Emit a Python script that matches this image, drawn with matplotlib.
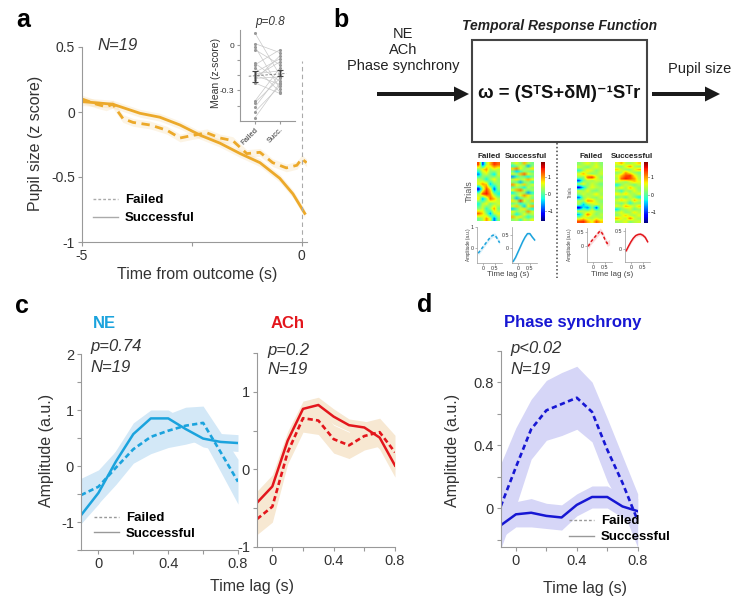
#Figur med pupil, NE, ACh og phase synchrony (TRF)
import numpy as np
import matplotlib
matplotlib.use("Agg")
import matplotlib.pyplot as plt
from matplotlib.lines import Line2D
from matplotlib.patches import Rectangle

plt.rcParams['font.family'] = ['Liberation Sans', 'DejaVu Sans']

#Data: panel a, pupil
t_succ = [-5, -4.3, -3.68, -3.23, -2.77, -2.3, -1.86, -1.4, -0.95, -0.5, -0.2, 0.07]
pupil_succ = [0.08, 0.06, -0.01, -0.04, -0.1, -0.18, -0.24, -0.32, -0.39, -0.51, -0.63, -0.78]
t_fail = [-5, -4.67, -4.45, -4.3, -4.07, -3.84, -3.45, -3.07, -2.77, -2.48, -2.16, -1.86,
          -1.57, -1.25, -0.95, -0.66, -0.35, -0.11, 0, 0.11]
pupil_fail = [0.1, 0.06, 0.04, 0.06, -0.05, -0.08, -0.1, -0.14, -0.2, -0.18, -0.16, -0.2,
              -0.22, -0.32, -0.31, -0.39, -0.43, -0.41, -0.36, -0.39]
#inset: mean z-score pr. dyr (parret)
inset_failed = [0.08, 0.01, -0.01, -0.03, -0.12, -0.13, -0.15, -0.18, -0.19, -0.2,
                -0.21, -0.22, -0.23, -0.25, -0.37, -0.38, -0.41, -0.44, -0.48]
inset_succ = [-0.2, -0.05, -0.29, -0.13, -0.24, -0.03, -0.31, -0.09, -0.17, -0.26,
              -0.11, -0.21, -0.07, -0.32, -0.15, -0.22, -0.19, -0.27, -0.25]

#Data: panel c og d (TRF)
lag = [-0.1, 0, 0.1, 0.2, 0.3, 0.4, 0.5, 0.6, 0.7, 0.8]
ne_succ = [-0.88, -0.48, 0.08, 0.57, 0.85, 0.85, 0.66, 0.49, 0.43, 0.41]
ne_succ_err = [0.15, 0.2, 0.2, 0.2, 0.15, 0.15, 0.15, 0.15, 0.15, 0.15]
ne_fail = [-0.52, -0.37, -0.03, 0.3, 0.52, 0.63, 0.72, 0.77, 0.25, -0.28]
ne_fail_err = [0.3, 0.3, 0.3, 0.25, 0.3, 0.3, 0.33, 0.3, 0.35, 0.4]
ach_succ = [-0.43, -0.22, 0.37, 0.78, 0.83, 0.68, 0.57, 0.54, 0.41, 0.05]
ach_succ_err = [0.15, 0.15, 0.12, 0.1, 0.1, 0.1, 0.08, 0.08, 0.15, 0.15]
ach_fail = [-0.64, -0.48, 0.22, 0.66, 0.63, 0.39, 0.31, 0.43, 0.48, 0.22]
ach_fail_err = [0.2, 0.2, 0.15, 0.18, 0.18, 0.18, 0.17, 0.18, 0.18, 0.22]
ps_succ = [-0.11, -0.04, -0.03, -0.05, -0.06, 0.02, 0.07, 0.07, 0.01, -0.02]
ps_succ_err = [0.08, 0.08, 0.09, 0.08, 0.08, 0.07, 0.07, 0.07, 0.07, 0.08]
ps_fail = [0.01, 0.26, 0.5, 0.62, 0.66, 0.7, 0.61, 0.37, 0.16, -0.08]
ps_fail_err = [0.27, 0.25, 0.19, 0.19, 0.2, 0.2, 0.19, 0.2, 0.17, 0.17]

#Data: panel b, eksempel-heatmaps (trials x lag) og sma TRF kurver
hm_ne_failed = [
    [1.3, -1.0, 0.4, 0.9, 1.4, 1.2], [0.2, 0.7, 1.0, 0.3, 0.6, 0.4],
    [-0.7, 0.3, 0.5, 0.1, -0.4, 0.5], [0.4, 0.2, -0.3, 0.3, 0.7, 0.2],
    [0.6, 1.0, 0.8, -0.5, 0.1, 0.3], [-1.2, 0.3, 1.3, 0.7, -0.9, 0.2],
    [0.3, 1.3, 1.5, 1.0, 0.2, -0.3], [0.7, -0.6, 0.2, 1.2, 0.9, 0.4],
    [-0.3, 0.4, 0.6, 0.1, 0.3, 0.5], [0.2, 0.5, -0.2, 0.3, 1.0, 0.1],
    [1.2, 0.8, 0.2, -0.6, 0.4, 0.6], [0.1, 0.4, 1.0, 0.5, -0.8, 0.2]]
hm_ne_succ = [
    [0.3, 0.6, 0.2, 0.9, 0.4, 0.1], [-0.2, 0.1, 0.5, 0.3, -0.5, 0.2],
    [0.8, 1.1, 0.6, 0.2, 0.4, 0.7], [0.1, -0.4, -0.1, 0.3, 0.2, 0.0],
    [0.5, 0.3, 0.9, 1.2, 0.6, 0.3], [-0.6, -0.2, 0.2, 0.0, -0.3, 0.1],
    [0.4, 0.7, 0.3, 0.5, 0.9, 0.6], [0.2, 0.0, -0.5, 0.1, 0.3, -0.2],
    [1.0, 0.6, 0.4, 0.8, 0.2, 0.5], [0.0, 0.3, 0.1, -0.3, 0.4, 0.2],
    [0.6, 0.9, 1.1, 0.4, 0.1, 0.3], [-0.3, 0.2, 0.4, 0.2, -0.6, -0.2],
    [0.4, 0.1, 0.6, 1.0, 0.7, 0.3], [0.2, -0.5, 0.0, 0.3, 0.5, 0.1],
    [0.7, 0.4, 1.3, 0.6, 0.2, 0.8], [0.1, 0.3, -0.2, 0.1, 0.4, 0.0],
    [0.5, 0.8, 0.3, -0.4, 0.6, 0.9], [-0.4, 0.0, 0.5, 0.7, 0.1, -0.3],
    [0.6, 0.2, 0.4, 0.3, 1.0, 0.5], [0.3, -0.3, 0.1, 0.6, 0.2, 0.4],
    [0.9, 0.5, 0.7, 0.2, -0.2, 0.1], [0.2, 0.4, -0.1, 0.5, 0.3, 0.6]]
hm_ach_failed = [
    [0.2, 0.4, 0.6, 0.3, 0.5, 0.2], [0.5, 0.3, 0.1, 0.4, 0.6, 0.3],
    [-0.2, 0.3, 0.7, 0.5, 0.2, 0.4], [0.6, 0.9, 0.4, 0.2, 0.3, 0.5],
    [0.3, 0.2, 1.2, 1.4, 0.6, 0.2], [-0.9, 0.1, 0.4, 0.3, 0.5, 0.4],
    [0.4, 0.6, 0.2, 0.5, 0.3, 0.1], [-1.2, -0.4, 0.3, 0.6, 0.4, 0.3],
    [0.5, 0.3, 0.6, 0.2, 0.1, 0.4], [0.2, 0.5, 0.3, 0.4, 0.7, 0.3],
    [-0.8, 0.2, 0.5, 0.3, 0.2, 0.5], [0.4, 0.3, 1.0, 0.9, 0.4, 0.2],
    [0.3, -0.5, 0.2, 0.4, 0.6, 0.3], [-1.3, -0.3, -0.7, 0.2, -0.9, 0.4],
    [0.5, 0.4, 0.3, 0.6, 0.3, 0.2], [-0.5, 0.3, 1.1, 0.5, 0.2, 0.4],
    [0.3, 0.6, 0.4, 0.3, 0.5, 0.3], [1.3, 1.4, 0.9, 0.6, 1.2, 0.8]]
hm_ach_succ = [
    [0.6, 0.9, 0.4, 0.3, 0.5, 0.8], [0.3, 0.2, 0.6, 1.0, 0.4, 0.2],
    [0.8, 0.5, 0.3, 0.2, 0.6, 0.9], [0.2, 0.4, 1.0, 0.6, 0.3, 0.1],
    [0.5, 0.9, 1.3, 1.4, 0.7, 0.3], [0.3, 1.2, 1.5, 1.3, 1.0, 0.4],
    [0.6, 0.4, 0.2, 0.5, 0.8, 0.6], [-0.3, 0.2, 0.5, 0.3, 0.1, 0.4],
    [0.4, 0.7, 0.3, 0.9, 0.5, 0.2], [0.2, -0.2, 0.4, 0.2, 0.6, 0.3],
    [0.7, 0.5, 0.8, 0.4, 0.3, 0.6], [0.1, 0.3, 0.0, 0.5, 0.2, -0.3],
    [0.5, 0.8, 0.6, 0.3, 0.9, 0.5], [0.3, 0.1, 0.4, -0.2, 0.3, 0.2],
    [0.6, 0.4, 0.9, 0.7, 0.4, 0.8], [-0.4, 0.2, 0.3, 0.5, 0.1, 0.3],
    [0.4, 0.6, 0.2, 0.3, 0.7, 0.4], [0.2, 0.5, 0.8, 0.4, 0.3, 0.6],
    [0.9, 0.6, 0.4, 1.1, 0.5, 0.3], [0.3, 0.4, 0.6, 0.2, 0.4, 0.5]]
mini_lag = [-0.2, -0.1, 0, 0.1, 0.2, 0.3, 0.4, 0.5, 0.6, 0.7]
mini_ne_fail = [-0.25, -0.1, 0.05, 0.2, 0.35, 0.5, 0.6, 0.62, 0.45, 0.25]
mini_ne_succ = [-0.5, -0.35, -0.15, 0.05, 0.25, 0.42, 0.55, 0.55, 0.42, 0.31]
mini_ach_fail = [0.0, 0.15, 0.25, 0.35, 0.45, 0.55, 0.45, 0.25, 0.1, 0.15]
mini_ach_succ = [-0.05, 0.08, 0.2, 0.3, 0.37, 0.4, 0.41, 0.38, 0.32, 0.2]

#farver
ORANGE = '#ECA92A'
NE_C, NE_BAND = '#1BA3DD', '#D3E8F7'
ACH_C, ACH_BAND = '#E3161C', '#F7E8D2'
PS_C, PS_BAND = '#1717D3', '#D6D6F7'
TXT = '#333333'

W, H = 733, 600
fig = plt.figure(figsize=(W / 100, H / 100), dpi=100)

#hjaelpefunktioner, alle positioner i pixels fra oeverste venstre hjoerne
def add_ax(l, t, r, b):
    return fig.add_axes([l / W, 1 - b / H, (r - l) / W, (b - t) / H])

def ft(x, y, s, **kw):
    kw.setdefault('ha', 'center')
    kw.setdefault('va', 'center')
    kw.setdefault('color', TXT)
    return fig.text(x / W, 1 - y / H, s, **kw)

def style(ax, size=10):
    for s in ['top', 'right']:
        ax.spines[s].set_visible(False)
    for s in ['left', 'bottom']:
        ax.spines[s].set_color('#999999')
        ax.spines[s].set_linewidth(0.8)
    ax.tick_params(direction='out', length=3, width=0.8, color='#999999',
                   labelcolor=TXT, labelsize=size, pad=2)

def legend(ax, color, x, y, spacing):
    h = [Line2D([], [], color=color, lw=1, ls=(0, (2, 1.5))),
         Line2D([], [], color=color, lw=1)]
    ax.legend(h, ['Failed', 'Successful'], loc='upper left',
              bbox_to_anchor=(x / W, 1 - y / H), bbox_transform=fig.transFigure,
              frameon=False, prop={'weight': 'bold', 'size': 9.5}, handlelength=1.9,
              handletextpad=0.5, labelspacing=spacing, borderpad=0, borderaxespad=0)

#overlay til diagrammet i panel b
ovl = fig.add_axes([0, 0, 1, 1])
ovl.set_xlim(0, W)
ovl.set_ylim(H, 0)
ovl.axis('off')

#---------------- panel a ----------------
ax = add_ax(82, 47, 307, 242)
ax.fill_between(t_fail, np.array(pupil_fail) - 0.03, np.array(pupil_fail) + 0.03,
                color=ORANGE, alpha=0.12, lw=0)
ax.fill_between(t_succ, np.array(pupil_succ) - 0.03, np.array(pupil_succ) + 0.03,
                color=ORANGE, alpha=0.12, lw=0)
ax.plot(t_succ, pupil_succ, color=ORANGE, lw=2)
ax.plot(t_fail, pupil_fail, color=ORANGE, lw=2, ls=(0, (3, 2)))
ax.axvline(0, ymax=0.93, color='#aaaaaa', lw=0.8, ls=(0, (4, 3)))
ax.set_xlim(-5, 0.12)
ax.set_ylim(-1, 0.5)
ax.set_xticks([-5, -2.5, 0], ['-5', '', '0'])
ax.set_yticks([-1, -0.5, 0, 0.5], ['-1', '-0.5', '0', '0.5'])
style(ax, 10)
legend(ax, '#aaaaaa', 93, 194, 0.45)
ft(36, 143, 'Pupil size (z score)', rotation=90, fontsize=11.5)
ft(197, 275, 'Time from outcome (s)', fontsize=11.5)
ft(97, 46, 'N=19', ha='left', style='italic', fontsize=12)
ft(23, 20, 'a', fontsize=18, weight='bold', color='black')

#inset
axi = add_ax(240, 30, 295, 120.7)
for f, s in zip(inset_failed, inset_succ):
    axi.plot([1, 2], [f, s], color='#c8c8c8', lw=0.5)
axi.scatter([1] * len(inset_failed), inset_failed, s=5, color='#999999', zorder=3, lw=0)
axi.scatter([2] * len(inset_succ), inset_succ, s=5, color='#999999', zorder=3, lw=0)
m_f, m_s = np.mean(inset_failed), np.mean(inset_succ)
e_f = np.std(inset_failed) / np.sqrt(len(inset_failed))
e_s = np.std(inset_succ) / np.sqrt(len(inset_succ))
axi.plot([0.75, 2.25], [m_f, m_s], color='#777777', lw=0.6, ls=(0, (3, 2)), zorder=4)
axi.errorbar([1, 2], [m_f, m_s], yerr=[e_f, e_s], fmt='none', ecolor='#444444',
             elinewidth=0.8, capsize=2, capthick=0.8, zorder=5)
axi.set_xlim(0.4, 2.6)
axi.set_ylim(-0.5, 0.1)
axi.set_yticks([0, -0.1, -0.2, -0.3, -0.4], ['0', '', '', '-0.3', ''])
axi.set_xticks([1, 2], ['Failed', 'Succ.'])
style(axi, 6)
axi.tick_params(length=2)
for lab in axi.get_xticklabels():
    lab.set_rotation(45)
    lab.set_ha('right')
    lab.set_rotation_mode('anchor')
    lab.set_fontsize(5.5)
ft(270, 22, 'p=0.8', style='italic', fontsize=8.5)
ft(216, 73, 'Mean (z-score)', rotation=90, fontsize=7.5)

#---------------- panel b ----------------
ft(341, 20, 'b', fontsize=18, weight='bold', color='black')
ft(403, 50, 'NE\nACh\nPhase synchrony', fontsize=10.5, linespacing=1.2, color='#222222')
ft(700, 69, 'Pupil size', fontsize=10.5, color='#222222')
ft(560, 26, 'Temporal Response Function', fontsize=10, weight='bold', style='italic',
   color='#222222')
ovl.add_patch(Rectangle((471.7, 40), 175, 101.7, fill=False, ec='#444444', lw=1.5))
ovl.arrow(377, 94, 92, 0, width=4, head_width=15, head_length=15,
          length_includes_head=True, color='#1a1a1a', lw=0)
ovl.arrow(652, 94, 68, 0, width=4, head_width=15, head_length=15,
          length_includes_head=True, color='#1a1a1a', lw=0)
ft(559, 93, 'ω = (SᵀS+δM)⁻¹Sᵀr', fontsize=13.3, weight='bold', color='#111111')
ovl.plot([556.7, 556.7], [143, 278], color='#444444', lw=1.1, ls=(0, (1, 1.5)))

def heat_group(hm_f, hm_s, mf, ms, ylim_f, ylim_s, yt_f, yt_s, color, pos, trial_fs):
    (fx0, fx1, sx0, sx1, cx0, cx1, hy0, hy1, m1, m2, my0, my1) = pos
    im = None
    for data, x0, x1 in [(hm_f, fx0, fx1), (hm_s, sx0, sx1)]:
        a = add_ax(x0, hy0, x1, hy1)
        im = a.imshow(data, cmap='jet', vmin=-1.6, vmax=1.9, aspect='auto',
                      interpolation='bilinear')
        a.set_xticks([])
        a.set_yticks([])
        for s in a.spines.values():
            s.set_visible(False)
    cax = add_ax(cx0, hy0, cx1, hy1)
    cb = fig.colorbar(im, cax=cax, ticks=[-1, 0, 1])
    cb.outline.set_visible(False)
    cax.tick_params(labelsize=3.5, length=1, width=0.4, pad=1)
    ft((fx0 + fx1) / 2 + 1, 156, 'Failed', fontsize=5.8, weight='bold', color='#222222')
    ft((sx0 + sx1) / 2 + 4, 156, 'Successful', fontsize=5.8, weight='bold', color='#222222')
    ft(fx0 - 7, (hy0 + hy1) / 2, 'Trials', rotation=90, fontsize=trial_fs, color='#555555')
    #sma kurver
    for i, (y, lim, yt, x0) in enumerate([(mf, ylim_f, yt_f, m1), (ms, ylim_s, yt_s, m2)]):
        a = add_ax(x0, my0, x0 + 25, my1)
        y = np.array(y)
        band = 0.1 if i == 0 else 0.05
        a.fill_between(mini_lag, y - band, y + band, color=color, alpha=0.15, lw=0)
        a.plot(mini_lag, y, color=color, lw=1.1, ls=(0, (2, 1.5)) if i == 0 else '-')
        a.set_xlim(-0.25, 0.8)
        a.set_ylim(*lim)
        a.set_xticks([0, 0.5], ['0', '0.5'])
        a.set_yticks(yt, [('%g' % v) for v in yt])
        style(a, 3.8)
        a.tick_params(length=1.2, width=0.5, pad=1)
        for s in ['left', 'bottom']:
            a.spines[s].set_linewidth(0.5)
        if i == 0:
            ft(fx0 - 8, (my0 + my1) / 2, 'Amplitude (a.u.)', rotation=90, fontsize=3.3)
    ft((fx0 + sx1) / 2 + 3, 275, 'Time lag (s)', fontsize=5.8, color='#444444')

heat_group(hm_ne_failed, hm_ne_succ, mini_ne_fail, mini_ne_succ, (-0.7, 1.0), (-0.55, 0.8),
           [0, 1], [0, 0.5], NE_C,
           (476.7, 499, 510.7, 533.3, 541, 545, 162, 220.7, 477, 512, 227, 262.7), 6.5)
heat_group(hm_ach_failed, hm_ach_succ, mini_ach_fail, mini_ach_succ, (-0.55, 0.65),
           (-0.36, 0.58), [0, 0.5], [0, 0.5], ACH_C,
           (577, 603, 615, 641, 644, 648, 161.7, 222.7, 587, 625, 228, 262), 3.5)

#---------------- panel c og d ----------------
def trf_panel(box, succ, succ_err, fail, fail_err, c, band, ylim, yticks, ylabels, dash):
    a = add_ax(*box)
    succ, succ_err = np.array(succ), np.array(succ_err)
    fail, fail_err = np.array(fail), np.array(fail_err)
    a.fill_between(lag, fail - fail_err, fail + fail_err, color=band, lw=0)
    a.fill_between(lag, succ - succ_err, succ + succ_err, color=band, lw=0)
    a.plot(lag, succ, color=c, lw=1.8)
    a.plot(lag, fail, color=c, lw=1.9, ls=dash)
    a.set_xlim(-0.1, 0.8)
    a.set_ylim(*ylim)
    a.set_xticks([0, 0.2, 0.4, 0.6, 0.8], ['0', '', '0.4', '', '0.8'])
    a.set_yticks(yticks, ylabels)
    style(a, 10.5)
    return a

ax_ne = trf_panel((81, 354, 238, 550), ne_succ, ne_succ_err, ne_fail, ne_fail_err,
                  NE_C, NE_BAND, (-1.5, 2), [-1.5, -1, -0.5, 0, 0.5, 1, 1.5, 2],
                  ['', '-1', '', '0', '', '1', '', '2'], (0, (2, 1.2)))
ax_ach = trf_panel((257, 353, 395, 547), ach_succ, ach_succ_err, ach_fail, ach_fail_err,
                   ACH_C, ACH_BAND, (-1, 1.5), [-1, -0.5, 0, 0.5, 1, 1.5],
                   ['-1', '', '0', '', '1', ''], (0, (2, 1.2)))
ax_ps = trf_panel((500.7, 350.5, 637.7, 547.4), ps_succ, ps_succ_err, ps_fail, ps_fail_err,
                  PS_C, PS_BAND, (-0.25, 1.0), [-0.2, 0, 0.2, 0.4, 0.6, 0.8, 1.0],
                  ['', '0', '', '0.4', '', '0.8', ''], (0, (2, 1.3)))
legend(ax_ne, '#999999', 94, 512, 0.25)
legend(ax_ps, '#999999', 569, 515, 0.3)

ft(22, 306, 'c', fontsize=18, weight='bold', color='black')
ft(425, 305, 'd', fontsize=18, weight='bold', color='black')
ft(104, 323, 'NE', fontsize=12, weight='bold', color=NE_C)
ft(288, 323, 'ACh', fontsize=12, weight='bold', color=ACH_C)
ft(573, 323, 'Phase synchrony', fontsize=12, weight='bold', color=PS_C)
ft(90, 347, 'p=0.74', ha='left', style='italic', fontsize=12)
ft(90, 368, 'N=19', ha='left', style='italic', fontsize=12)
ft(267, 350, 'p=0.2', ha='left', style='italic', fontsize=12)
ft(267, 370, 'N=19', ha='left', style='italic', fontsize=12)
ft(510, 349, 'p<0.02', ha='left', style='italic', fontsize=12)
ft(510, 369, 'N=19', ha='left', style='italic', fontsize=12)
ft(47, 450, 'Amplitude (a.u.)', rotation=90, fontsize=11.5)
ft(452, 450, 'Amplitude (a.u.)', rotation=90, fontsize=11.5)
ft(252, 586, 'Time lag (s)', fontsize=11.5)
ft(585, 588, 'Time lag (s)', fontsize=11.5)

fig.savefig('out.png', dpi=100)
